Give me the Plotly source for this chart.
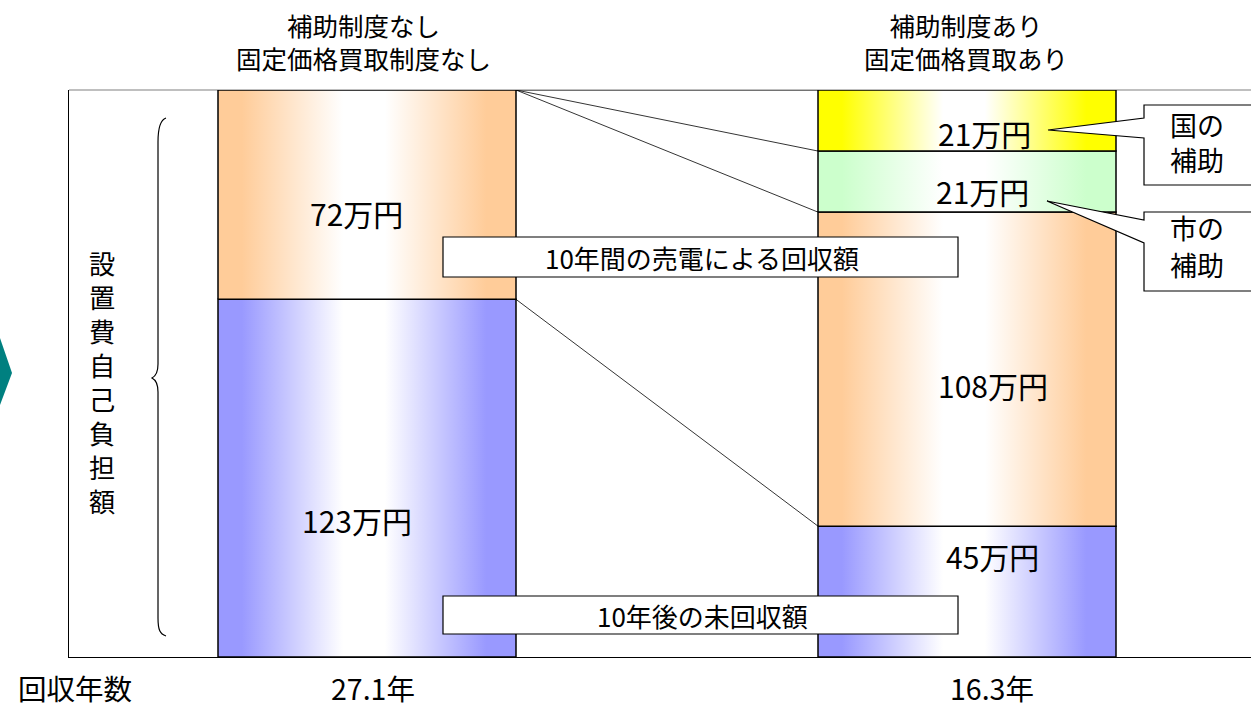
import plotly.graph_objects as go

# ---------------- data ----------------
categories = ["補助制度なし<br>固定価格買取制度なし", "補助制度あり<br>固定価格買取あり"]
series_names = ["10年後の未回収額", "10年間の売電による回収額", "市の補助", "国の補助"]
unrecovered = [123, 45]          # 10年後の未回収額 (万円)
sales_recovery = [72, 108]       # 10年間の売電による回収額 (万円)
city_subsidy = [0, 21]           # 市の補助 (万円)
national_subsidy = [0, 21]       # 国の補助 (万円)
payback_years = [27.1, 16.3]     # 回収年数
unit = "万円"

# ---------------- layout helpers ----------------
W, H = 1251, 704
L, R, T, B = 69, 1251, 90, 657   # plot area in screen pixels
FONT = "Noto Sans CJK JP"


def px(x):
    return (x - L) / (R - L)


def py(y):
    return (B - y) / (B - T)


def ann(x, y, text, size, xref="paper", yref="paper", **kw):
    d = dict(x=x, y=y, xref=xref, yref=yref, text=text, showarrow=False,
             xanchor="center", yanchor="middle",
             font=dict(family=FONT, size=size, color="black"))
    d.update(kw)
    return d


series = [unrecovered, sales_recovery, city_subsidy, national_subsidy]
colors = ["#9999FF", "#FFCC99", "#CCFFCC", "#FFFF00"]
x_idx = list(range(len(categories)))
half = 149 / 600


def grad(c):
    return [[0, c], [0.08, c], [0.42, "#FFFFFF"], [0.56, "#FFFFFF"], [0.9, c], [1, c]]


fig = go.Figure()

bases_list, tops_list = [], []
bases = [0] * len(x_idx)
for vals in series:
    tops = [b + v for b, v in zip(bases, vals)]
    bases_list.append(bases)
    tops_list.append(tops)
    bases = tops

# series lines
for tops in tops_list:
    fig.add_trace(go.Scatter(x=[0 + half, 1 - half], y=[tops[0], tops[1]], mode="lines",
                             line=dict(color="black", width=0.8), showlegend=False, hoverinfo="skip"))

# bars with horizontal gradients
for s, vals in enumerate(series):
    for i in x_idx:
        if vals[i] <= 0:
            continue
        b0, t0 = bases_list[s][i], tops_list[s][i]
        fig.add_trace(go.Scatter(
            x=[i - half, i + half, i + half, i - half, i - half],
            y=[b0, b0, t0, t0, b0],
            mode="lines", fill="toself",
            fillgradient=dict(type="horizontal", colorscale=grad(colors[s])),
            line=dict(color="black", width=1.5),
            name=series_names[s], showlegend=False, hoverinfo="skip"))

annotations = []
label_shift = {
    (0, 0): (-10, -42), (0, 1): (-11, -18),
    (1, 0): (25, 36), (1, 1): (26, -16), (1, 2): (15, -9), (1, 3): (17, -12),
}
for s, vals in enumerate(series):
    for i in x_idx:
        if vals[i] <= 0:
            continue
        xs, ys = label_shift.get((i, s), (0, 0))
        annotations.append(ann(i, bases_list[s][i] + vals[i] / 2, f"{vals[i]}{unit}", 30,
                               xref="x", yref="y", xshift=xs, yshift=ys))

# category titles
for i in x_idx:
    annotations.append(ann(i, py(41), categories[i], 25.5, xref="x", xshift=-4 if i == 0 else -1))

# payback years
annotations.append(ann(px(75), py(687), "回収年数", 28.5))
for i in x_idx:
    annotations.append(ann(i, py(687), f"{payback_years[i]}年", 28.5, xref="x",
                           xshift=6 if i == 0 else 25))

# vertical description
vt = "設置費自己負担額"
annotations.append(ann(px(102), py(263 + 34 * 3.5), "<br>".join(vt), 26.2))

shapes = []
for name, (y0, y1) in [(series_names[1], (237, 277)), (series_names[0], (596, 634))]:
    shapes.append(dict(type="rect", xref="paper", yref="paper", x0=px(443), x1=px(958),
                       y0=py(y1), y1=py(y0), fillcolor="white", line=dict(color="black", width=1.2),
                       layer="above"))
    annotations.append(ann(px(702), py((y0 + y1) / 2), name, 26))

callouts = [
    ((105, 185), (1048, 130), (118, 138), ("国の", "補助"), (124, 159)),
    ((212, 291), (1047, 201), (220, 243), ("市の", "補助"), (227, 264)),
]
for (by0, by1), (tx, ty), (w0, w1), lines, (l0, l1) in callouts:
    bx0, bx1 = 1144, 1260
    pts = [(bx0, by0), (bx1, by0), (bx1, by1), (bx0, by1), (bx0, w1), (tx, ty), (bx0, w0)]
    path = "M " + " L ".join(f"{px(a):.5f},{py(b):.5f}" for a, b in pts) + " Z"
    shapes.append(dict(type="path", xref="paper", yref="paper", path=path, fillcolor="white",
                       line=dict(color="black", width=1.2), layer="above"))
    for txt, yy in zip(lines, (l0, l1)):
        annotations.append(ann(px(1197), py(yy), txt, 27))

# brace
bp = [("M", [(166, 118)]), ("C", [(160, 120), (158, 128), (158, 142)]), ("L", [(158, 364)]),
      ("C", [(158, 372), (156, 376), (152, 378)]), ("C", [(156, 380), (158, 384), (158, 392)]),
      ("L", [(158, 618)]), ("C", [(158, 630), (160, 634), (166, 636)])]
path = " ".join(cmd + " " + " ".join(f"{px(a):.5f},{py(b):.5f}" for a, b in p) for cmd, p in bp)
shapes.append(dict(type="path", xref="paper", yref="paper", path=path,
                   line=dict(color="black", width=1.2), layer="above"))

# teal chevron at left edge
chev = [(-5, 338), (0, 338), (12, 373), (0, 405), (-5, 405)]
path = "M " + " L ".join(f"{px(a):.5f},{py(b):.5f}" for a, b in chev) + " Z"
shapes.append(dict(type="path", xref="paper", yref="paper", path=path, fillcolor="#008080",
                   line=dict(width=0), layer="above"))

# top border (gray)
shapes.append(dict(type="line", xref="paper", yref="paper", x0=0, x1=1, y0=1, y1=1,
                   line=dict(color="#808080", width=1.2), layer="below"))

fig.update_layout(
    width=W, height=H,
    margin=dict(l=L, r=W - R, t=T, b=H - B),
    paper_bgcolor="white", plot_bgcolor="white",
    showlegend=False,
    xaxis=dict(range=[-(367 - L) / 600, 1 + (R - 967) / 600], showgrid=False, zeroline=False,
               showticklabels=False, ticks="", showline=True, linecolor="black", linewidth=1.3,
               fixedrange=True),
    yaxis=dict(range=[0, sum(v[0] for v in series)], showgrid=False, zeroline=False,
               showticklabels=False, ticks="", showline=True, linecolor="black", linewidth=1.3,
               fixedrange=True),
    shapes=shapes, annotations=annotations,
    font=dict(family=FONT),
)

fig.write_html("out.html", config={"displayModeBar": False},
               post_script="document.body.style.margin='0';document.body.style.overflow='hidden';")
